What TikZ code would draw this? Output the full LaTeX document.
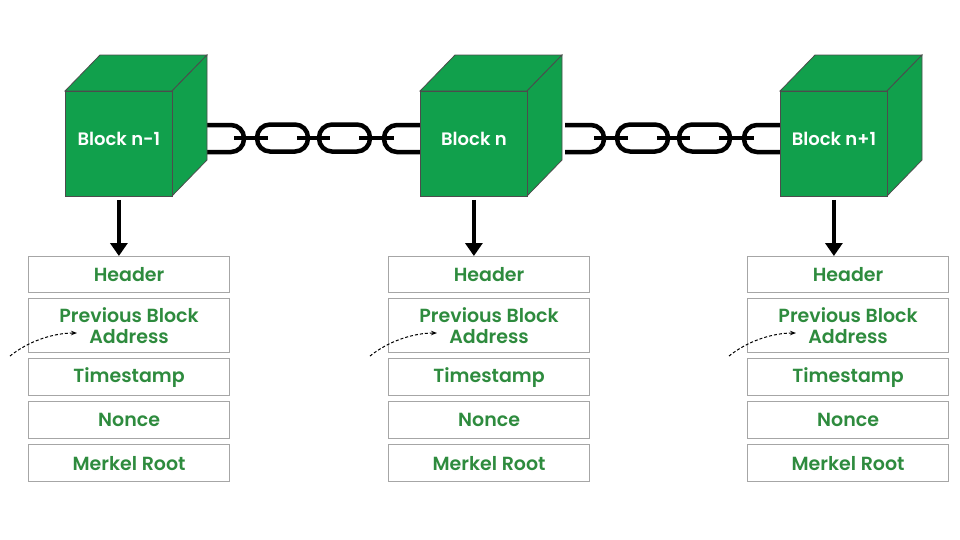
\documentclass[tikz,border=0pt]{standalone}
\usepackage{fontspec}
\setmainfont{Poppins}[BoldFont={* SemiBold}]
\usetikzlibrary{arrows.meta}
\definecolor{cubeg}{HTML}{11A04C}
\definecolor{txtg}{HTML}{2E8B3E}
\tikzset{
  fld/.style={draw=gray!70,line width=1.2pt,minimum width=201pt,text=txtg,font=\fontsize{19}{20}\selectfont\bfseries,align=center,inner sep=0pt},
  link/.style={line width=4.5pt,black},
  down/.style={line width=3.6pt,-{Triangle[length=13pt,width=17pt]}},
  dasharr/.style={densely dashed,line width=1pt,-{Stealth[length=6pt]}}
}
\begin{document}
\begin{tikzpicture}[x=1pt,y=-1pt]
\useasboundingbox (0,0) rectangle (960,539);
% chains
\foreach \s in {0,360}{
 \begin{scope}[xshift=\s]
  \draw[link,rounded corners=13pt] (205,125) -- (244,125) -- (244,152) -- (205,152);
  \draw[link,rounded corners=13pt] (257,124.5) rectangle (308,151.5);
  \draw[link,rounded corners=13pt] (319,124.5) rectangle (370,151.5);
  \draw[link,rounded corners=13pt] (422,125) -- (384,125) -- (384,152) -- (422,152);
  \draw[link] (234,138) -- (268,138);
  \draw[link] (297,138) -- (330,138);
  \draw[link] (359,138) -- (394,138);
 \end{scope}}
\foreach \x/\lab/\n/\bx in {65/Block n-1/a/-37,420/Block n/b/-32,780/Block n+1/c/-33}{
 \begin{scope}[xshift=\x]
  \draw[fill=cubeg,draw=black!70,line width=0.8pt] (0,91)--(35,55)--(142,55)--(107,91)--cycle;
  \draw[fill=cubeg,draw=black!70,line width=0.8pt] (107,91)--(142,55)--(142,160)--(107,196)--cycle;
  \node[fill=cubeg,draw=black!70,line width=0.8pt,minimum width=107pt,minimum height=105pt,anchor=north west,inner sep=0pt,text=white,font=\fontsize{18}{19}\selectfont\bfseries] (cube\n) at (0,91) {\raisebox{10pt}{\lab}};
  \node[fld,minimum height=36pt,anchor=north west] (h\n) at (\bx,256) {Header};
  \node[fld,minimum height=54pt,anchor=north west] (p\n) at (\bx,298) {Previous Block\\[1pt]Address};
  \node[fld,minimum height=37pt,anchor=north west] (t\n) at (\bx,358) {Timestamp};
  \node[fld,minimum height=37pt,anchor=north west] (o\n) at (\bx,401) {Nonce};
  \node[fld,minimum height=37pt,anchor=north west] (m\n) at (\bx,444) {Merkel Root};
  \coordinate (s\n) at (\bx-18,356);
  \coordinate (e\n) at (\bx+49,333);
  \draw[dasharr] (s\n) .. controls (\bx+2,340) and (\bx+27,333) .. (e\n);
  \draw[down] ([yshift=-3pt]cube\n.south) -- (cube\n.south |- h\n.north);
 \end{scope}}
\end{tikzpicture}
\end{document}
